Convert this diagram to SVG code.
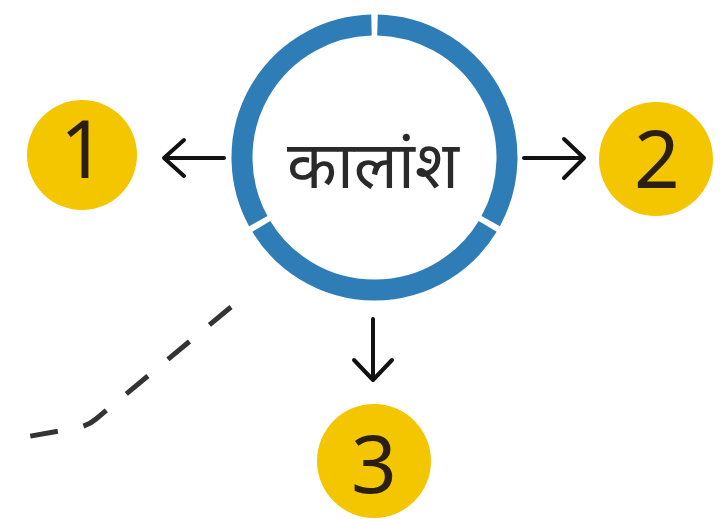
<svg xmlns="http://www.w3.org/2000/svg" width="723" height="519" viewBox="0 0 723 519">
<style>
.ring{fill:none;stroke:#2f7db6;stroke-width:21}
.yc{fill:#f3c600}
.num{font-family:"Noto Sans","Open Sans","DejaVu Sans",sans-serif;font-size:80px;fill:#2a1f10;text-anchor:middle}
.lbl{font-family:"Noto Sans","Noto Sans Devanagari","Lohit Devanagari","FreeSans",sans-serif;font-size:65px;fill:#2a2a2a;text-anchor:middle}
.arr{fill:none;stroke:#111;stroke-width:4;stroke-linecap:round;stroke-linejoin:round}
.dash{fill:none;stroke:#333;stroke-width:5;stroke-dasharray:28 26}
</style>
<rect width="723" height="519" fill="#fff"/>
<g id="center">
<path class="ring" d="M377.5 25.03 A132.5 132.5 0 0 1 490.72 221.13"/>
<path class="ring" d="M487.72 226.34 A132.5 132.5 0 0 1 261.28 226.34"/>
<path class="ring" d="M258.28 221.13 A132.5 132.5 0 0 1 371.49 25.03"/>
<text class="lbl" x="373" y="188">कालांश</text>
</g>
<g id="node1"><circle class="yc" cx="82" cy="155" r="55"/><text class="num" x="83" y="178">1</text></g>
<g id="node2"><circle class="yc" cx="656" cy="159" r="57"/><text class="num" x="657" y="188">2</text></g>
<g id="node3"><circle class="yc" cx="374" cy="461" r="57"/><text class="num" x="374" y="493">3</text></g>
<g id="connectors">
<path class="arr" d="M224 158 H165 M184 140 L164 158 L184 176"/>
<path class="arr" d="M524 158 H584 M564 139 L584 158 L564 178"/>
<path class="arr" d="M373 319 V380 M354 360 L373 380 L392 360"/>
<path class="dash" d="M231 307 L96 419 Q88 426 76 428 L20 438"/>
</g>
</svg>
